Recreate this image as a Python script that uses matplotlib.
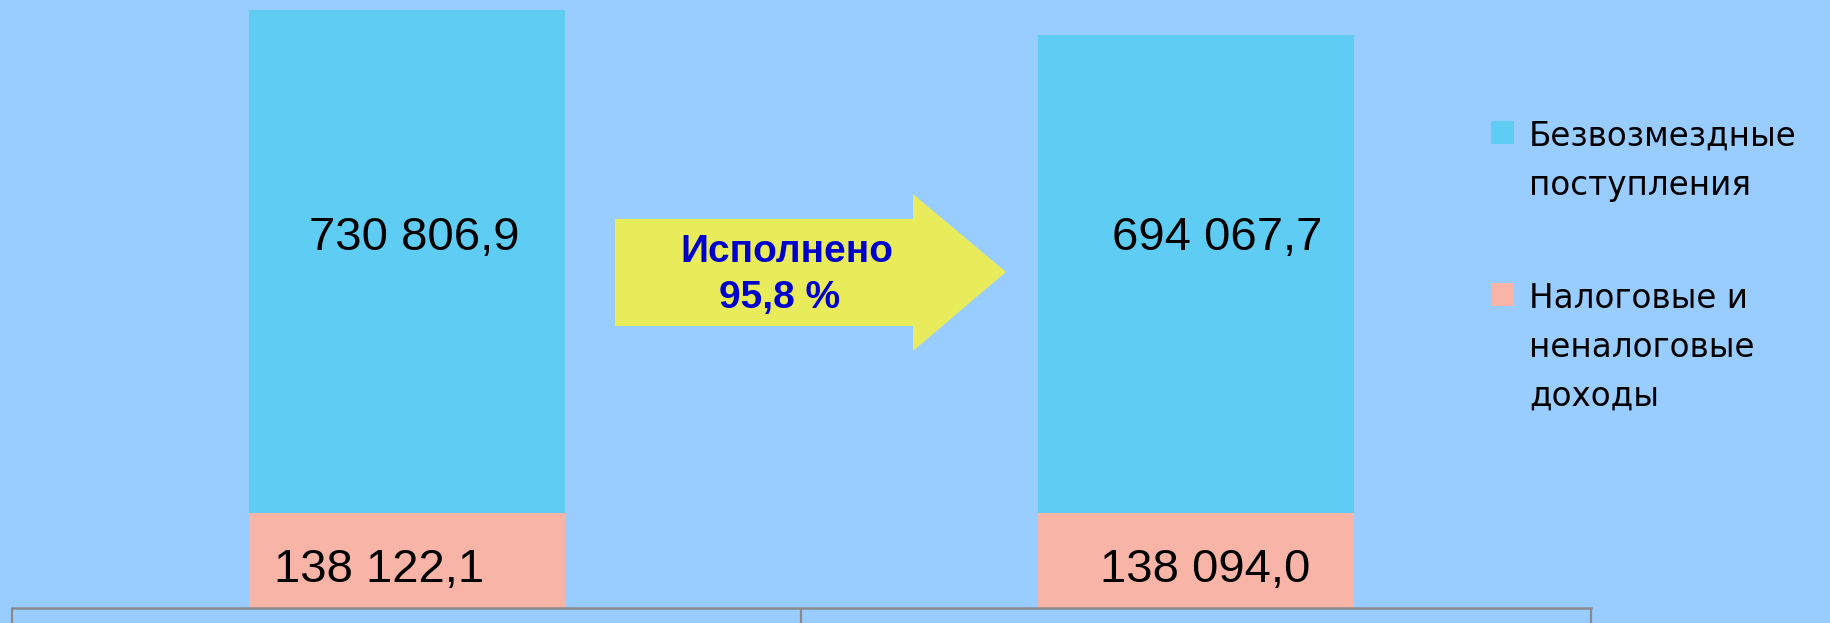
import matplotlib
matplotlib.use("Agg")
import matplotlib.pyplot as plt
from matplotlib.patches import Polygon, Rectangle

# ---- data ----
categories = ["План", "Исполнено"]
tax_income = [138122.1, 138094.0]          # Налоговые и неналоговые доходы
grants = [730806.9, 694067.7]              # Безвозмездные поступления
tax_labels = ["138 122,1", "138 094,0"]
grant_labels = ["730 806,9", "694 067,7"]
series_names = ["Безвозмездные\nпоступления", "Налоговые и\nненалоговые\nдоходы"]
arrow_text = ["Исполнено", "95,8 %"]

# ---- style ----
BG = "#99CCFF"
C_GRANT = "#5FCCF3"
C_TAX = "#F9B4A8"
C_ARROW = "#E8EC5A"
C_ARROW_TXT = "#0000CC"
C_AXIS = "#8A8A8A"

W, H = 1831, 623
fig = plt.figure(figsize=(W / 100, H / 100), dpi=100, facecolor=BG)

# main axes (pixel geometry: left 12, right 1591, baseline at y=608 from top)
ax = fig.add_axes([12 / W, 15 / H, (1591 - 12) / W, 608 / H])
ax.set_facecolor(BG)
x = list(range(len(categories)))
bw = 0.40
ax.bar(x, tax_income, width=bw, color=C_TAX, zorder=2)
ax.bar(x, grants, width=bw, bottom=tax_income, color=C_GRANT, zorder=2)
ax.set_xlim(-0.5, len(categories) - 0.5)
ax.set_ylim(0, 883500)
for s in ["top", "left", "right"]:
    ax.spines[s].set_visible(False)
ax.spines["bottom"].set_color(C_AXIS)
ax.spines["bottom"].set_linewidth(1.8)
ax.set_xticks([])
ax.set_yticks([])

# category box lines (table below axis)
xt = ax.get_xaxis_transform()
for xv in [-0.5 + i for i in range(len(categories) + 1)]:
    ax.plot([xv, xv], [0, -0.2], transform=xt, color=C_AXIS, lw=1.6,
            clip_on=False, solid_capstyle="butt")

# value labels
lbl_font = dict(family=["Liberation Sans", "DejaVu Sans"], fontsize=34, color="black")
grant_dx = [0.0095, 0.026]
tax_dx = [-0.035, 0.011]
grant_label_y = 538000
for i in x:
    ax.text(i + grant_dx[i], grant_label_y, grant_labels[i],
            ha="center", va="center", zorder=3, **lbl_font)
    ax.text(i + tax_dx[i], tax_income[i] * 0.40, tax_labels[i],
            ha="center", va="center", zorder=3, **lbl_font)

# overlay in pixel coordinates for arrow and legend
ov = fig.add_axes([0, 0, 1, 1])
ov.set_xlim(0, W)
ov.set_ylim(H, 0)
ov.axis("off")
ov.patch.set_alpha(0)

arrow = Polygon([(615, 219), (913, 219), (913, 194), (1006, 272),
                 (913, 351), (913, 326), (615, 326)],
                closed=True, facecolor=C_ARROW, edgecolor="none")
ov.add_patch(arrow)
ov.text(787, 252, arrow_text[0], ha="center", va="center", fontsize=28,
        fontweight="bold", color=C_ARROW_TXT, family=["Liberation Sans", "DejaVu Sans"])
ov.text(780, 298, arrow_text[1], ha="center", va="center", fontsize=28,
        fontweight="bold", color=C_ARROW_TXT, family=["Liberation Sans", "DejaVu Sans"])

# legend (manual)
leg_colors = [C_GRANT, C_TAX]
leg_tops = [121, 283]
for name, col, top in zip(series_names, leg_colors, leg_tops):
    ov.add_patch(Rectangle((1491, top), 23, 23, facecolor=col, edgecolor="none"))
    for k, line in enumerate(name.split("\n")):
        ov.text(1529, top + 25 + k * 49, line, ha="left", va="baseline",
                fontsize=23.5, color="black", family=["DejaVu Sans"])

fig.savefig("out.png", dpi=100, facecolor=BG)
